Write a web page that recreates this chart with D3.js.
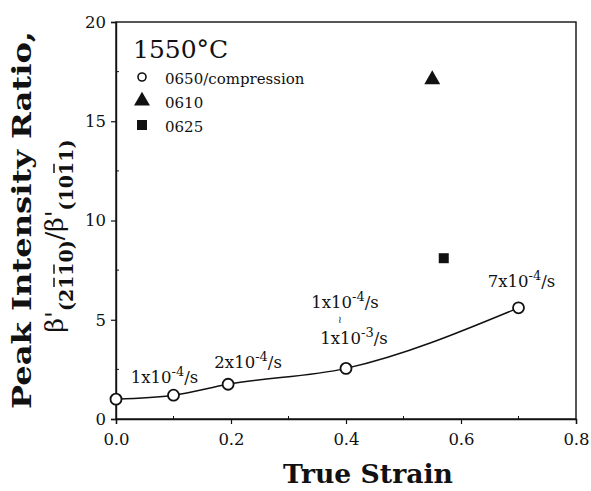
<!DOCTYPE html>
<html>
<head>
<meta charset="utf-8">
<script src="https://cdn.jsdelivr.net/npm/d3@7"></script>
<style>
  body { margin: 0; background: #fff; }
  text { font-family: "DejaVu Serif", "Liberation Serif", serif; fill: #111; }
</style>
</head>
<body>
<div id="chart"></div>
<script>
// compression test 0650, strain rates labelled at each step
const strain = [0.0, 0.1, 0.195, 0.4, 0.7];
const ratio = [1.0, 1.2, 1.75, 2.55, 5.6];
const rateMant = [null, "1x10", "2x10", "1x10", "7x10"];
const rateExp = [null, "-4", "-4", "-4", "-4"];
// second rate under the 0.4 point
const rate2Mant = "1x10", rate2Exp = "-3";

const strain0610 = [0.55];
const ratio0610 = [17.1];
const strain0625 = [0.57];
const ratio0625 = [8.1];

const xTicks = [0.0, 0.2, 0.4, 0.6, 0.8];
const yTicks = [0, 5, 10, 15, 20];
const legendNames = ["0650/compression", "0610", "0625"];

const width = 591, height = 491;
const margin = {top: 22, right: 15, bottom: 72, left: 116};

const svg = d3.select("#chart").append("svg")
  .attr("width", width).attr("height", height);

const x = d3.scaleLinear().domain([0, 0.8]).range([margin.left, width - margin.right]);
const y = d3.scaleLinear().domain([0, 20]).range([height - margin.bottom, margin.top]);

// frame
svg.append("rect")
  .attr("x", x(0)).attr("y", y(20))
  .attr("width", x(0.8) - x(0)).attr("height", y(0) - y(20))
  .attr("fill", "none").attr("stroke", "#111").attr("stroke-width", 1.4);

// axes
const xAxis = svg.append("g")
  .attr("transform", "translate(0," + y(0) + ")")
  .call(d3.axisBottom(x).tickValues(xTicks).tickFormat(d3.format(".1f")).tickSize(5).tickPadding(9));
const yAxis = svg.append("g")
  .attr("transform", "translate(" + x(0) + ",0)")
  .call(d3.axisLeft(y).tickValues(yTicks).tickSize(5).tickPadding(5));

[xAxis, yAxis].forEach(g => {
  g.select(".domain").attr("stroke", "#111").attr("stroke-width", 1.4);
  g.selectAll(".tick line").attr("stroke", "#111").attr("stroke-width", 1.2);
  g.selectAll(".tick text")
    .attr("font-family", "DejaVu Serif")
    .attr("font-size", "16.5px")
    .attr("fill", "#111");
});

// minor ticks
svg.append("g").selectAll("line")
  .data(d3.range(0.1, 0.8, 0.2))
  .enter().append("line")
  .attr("x1", d => x(d)).attr("x2", d => x(d))
  .attr("y1", y(0)).attr("y2", y(0) - 3)
  .attr("stroke", "#111");
svg.append("g").selectAll("line")
  .data(d3.range(2.5, 20, 5))
  .enter().append("line")
  .attr("x1", x(0)).attr("x2", x(0) + 3)
  .attr("y1", d => y(d)).attr("y2", d => y(d))
  .attr("stroke", "#111");

// axis titles
svg.append("text")
  .attr("x", 368)
  .attr("y", 483)
  .attr("text-anchor", "middle")
  .attr("font-weight", "bold")
  .attr("font-size", "26px")
  .attr("textLength", 170)
  .attr("lengthAdjust", "spacingAndGlyphs")
  .text("True Strain");

const yTitle = svg.append("g")
  .attr("transform", "translate(0," + 220 + ") rotate(-90)");
yTitle.append("text")
  .attr("x", 0).attr("y", 31)
  .attr("text-anchor", "middle")
  .attr("font-weight", "bold")
  .attr("font-size", "26px")
  .attr("textLength", 378)
  .attr("lengthAdjust", "spacingAndGlyphs")
  .text("Peak Intensity Ratio,");
const sub = yTitle.append("text")
  .attr("x", -16).attr("y", 63)
  .attr("text-anchor", "middle")
  .attr("font-size", "25px");
sub.append("tspan").text("\u03B2'");
sub.append("tspan").attr("dy", 10).attr("font-size", "19px").attr("font-weight", "bold").text("(2110)");
sub.append("tspan").attr("dy", -10).text("/\u03B2'");
sub.append("tspan").attr("dy", 10).attr("font-size", "19px").attr("font-weight", "bold").text("(1011)");
// bars over the negative Miller indices
[4, 5, 14].forEach(i => {
  const n = sub.node();
  const a = n.getStartPositionOfChar(i), b = n.getEndPositionOfChar(i);
  yTitle.append("line")
    .attr("x1", a.x + 2).attr("x2", b.x - 2)
    .attr("y1", a.y - 19).attr("y2", a.y - 19)
    .attr("stroke", "#111").attr("stroke-width", 1.5);
});

// curve through compression points
const pts = strain.map((s, i) => [s, ratio[i]]);
svg.append("path")
  .datum(pts)
  .attr("fill", "none")
  .attr("stroke", "#111")
  .attr("stroke-width", 1.5)
  .attr("d", d3.line().x(d => x(d[0])).y(d => y(d[1])).curve(d3.curveMonotoneX));

svg.append("g").selectAll("circle")
  .data(pts)
  .enter().append("circle")
  .attr("cx", d => x(d[0])).attr("cy", d => y(d[1]))
  .attr("r", 5.5)
  .attr("fill", "#fff").attr("stroke", "#111").attr("stroke-width", 1.8);

const tri = d3.symbol().type(d3.symbolTriangle).size(110);
svg.append("g").selectAll("path")
  .data(strain0610.map((s, i) => [s, ratio0610[i]]))
  .enter().append("path")
  .attr("transform", d => "translate(" + x(d[0]) + "," + y(d[1]) + ")")
  .attr("d", tri).attr("fill", "#111");

svg.append("g").selectAll("rect")
  .data(strain0625.map((s, i) => [s, ratio0625[i]]))
  .enter().append("rect")
  .attr("x", d => x(d[0]) - 5).attr("y", d => y(d[1]) - 5)
  .attr("width", 10).attr("height", 10).attr("fill", "#111");

// strain rate labels
function rateLabel(px, py, mant, exp) {
  const t = svg.append("text")
    .attr("x", px).attr("y", py)
    .attr("text-anchor", "middle")
    .attr("font-size", "16.5px");
  t.append("tspan").text(mant);
  t.append("tspan").attr("dy", -7).attr("font-size", "13px").text(exp);
  t.append("tspan").attr("dy", 7).text("/s");
}
const labelOff = [null, [-9, -12], [20, -16], [-1, -60], [3, -21]];
pts.forEach((d, i) => {
  if (!rateMant[i]) return;
  rateLabel(x(d[0]) + labelOff[i][0], y(d[1]) + labelOff[i][1], rateMant[i], rateExp[i]);
});
const p3 = pts[3];
rateLabel(x(p3[0]) + 8, y(p3[1]) - 24, rate2Mant, rate2Exp);
svg.append("text")
  .attr("x", x(p3[0]) - 6).attr("y", y(p3[1]) - 45)
  .attr("text-anchor", "middle")
  .attr("font-size", "10px")
  .text("\u2240");

// legend
svg.append("text")
  .attr("x", 133).attr("y", 58)
  .attr("font-size", "25px")
  .text("1550\u00B0C");
const lg = svg.append("g");
const lgY = [77, 101, 125];
lg.append("circle").attr("cx", 142).attr("cy", lgY[0]).attr("r", 4)
  .attr("fill", "#fff").attr("stroke", "#111").attr("stroke-width", 1.6);
lg.append("path").attr("transform", "translate(142," + lgY[1] + ")").attr("d", tri).attr("fill", "#111");
lg.append("rect").attr("x", 137).attr("y", lgY[2] - 5).attr("width", 10).attr("height", 10).attr("fill", "#111");
lg.selectAll("text")
  .data(legendNames)
  .enter().append("text")
  .attr("x", 165).attr("y", (d, i) => lgY[i] + 7)
  .attr("font-size", "15px")
  .text(d => d);
</script>
</body>
</html>
